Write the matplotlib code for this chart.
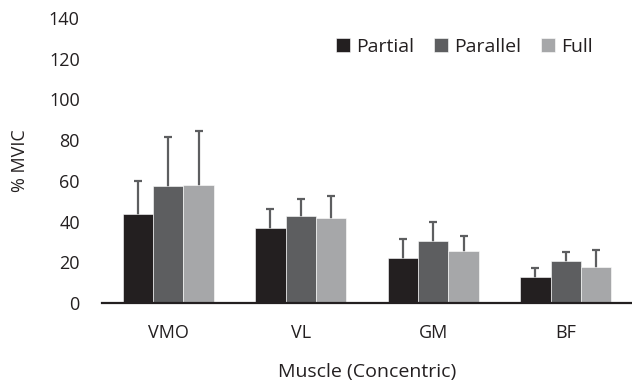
import numpy as np
import matplotlib.pyplot as plt

plt.rcParams['font.family'] = ['Open Sans', 'DejaVu Sans']

muscles = ['VMO', 'VL', 'GM', 'BF']
series = ['Partial', 'Parallel', 'Full']
partial = [43.7, 36.8, 22.3, 12.8]
parallel = [57.5, 42.9, 30.3, 20.5]
full = [57.8, 41.6, 25.5, 17.8]
partial_sd = [16.3, 9.4, 9.0, 4.5]
parallel_sd = [24.0, 8.2, 9.5, 4.5]
full_sd = [26.7, 11.1, 7.4, 8.1]

colors = ['#231f20', '#5d5e60', '#a6a7a9']

fig = plt.figure(figsize=(6.32, 3.82), dpi=100)
ax = fig.add_axes([102 / 632, 1 - 303 / 382, 530 / 632, 285 / 382])

x = np.arange(len(muscles))
w = 0.23
vals = [partial, parallel, full]
sds = [partial_sd, parallel_sd, full_sd]
for i in range(3):
    ax.bar(x + (i - 1) * w, vals[i], w, color=colors[i], label=series[i],
           edgecolor='white', linewidth=0.4, zorder=2)
    # symmetric bars; the lower half is hidden behind the bar
    ax.errorbar(x + (i - 1) * w, vals[i], yerr=sds[i], fmt='none',
                ecolor='#5d5e60', elinewidth=1.6, capsize=3, capthick=1.6, zorder=1)

ax.set_xlim(-0.5, 3.5)
ax.set_ylim(0, 140)
ax.set_yticks(range(0, 141, 20))
ax.set_xticks(x)
ax.set_xticklabels(muscles)
ax.tick_params(length=0, labelsize=13, colors='#231f20')
ax.tick_params(axis='x', pad=15)
ax.tick_params(axis='y', pad=16)
for s in ['top', 'right', 'left']:
    ax.spines[s].set_visible(False)
ax.spines['bottom'].set_linewidth(1.6)
ax.spines['bottom'].set_color('#231f20')

ax.set_xlabel('Muscle (Concentric)', fontsize=14, color='#231f20', labelpad=15)
ax.set_ylabel('% MVIC', fontsize=13, color='#231f20', labelpad=14)

ax.legend(loc='center right', bbox_to_anchor=(0.95, 1 - 47 / 382), bbox_transform=fig.transFigure,
          ncol=3, frameon=False, fontsize=14, handlelength=0.75, handleheight=0.75,
          handletextpad=0.3, columnspacing=1.0, labelcolor='#231f20', borderaxespad=0)

fig.savefig('out.png', dpi=100)
